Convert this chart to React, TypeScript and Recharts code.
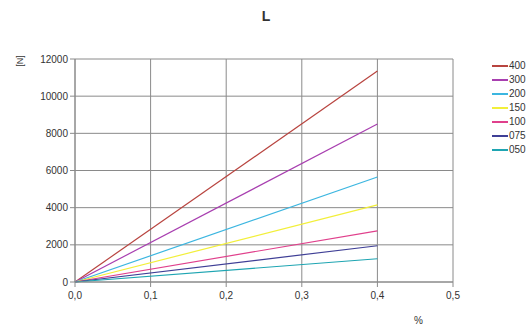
import React from 'react';
import { LineChart, Line, XAxis, YAxis, CartesianGrid } from 'recharts';

// strain [%] vs force [N], one line per size
const strain = [0, 0.4];
const seriesNames = ['400', '300', '200', '150', '100', '075', '050'];
const endForces = [11350, 8500, 5650, 4150, 2750, 1950, 1250];
const colors = ['#b8443f', '#a83fb0', '#3cb6e0', '#f2ef3a', '#e0408c', '#3f3f96', '#1ea5b2'];

const xTicks = [0, 0.1, 0.2, 0.3, 0.4, 0.5];
const yTicks = [0, 2000, 4000, 6000, 8000, 10000, 12000];

const data = strain.map((s, i) => {
    const row: Record<string, number> = { x: s };
    seriesNames.forEach((n, k) => {
        row[n] = i === 0 ? 0 : endForces[k];
    });
    return row;
});

const font = '"Liberation Sans", Arial, sans-serif';
const tickStyle = { fill: '#333', fontSize: 10, fontFamily: font };

export default function App() {
    return (
        <div style={{ position: 'absolute', left: 0, top: 0, width: 532, height: 326, background: '#fff', fontFamily: font }}>
            <div style={{ position: 'absolute', left: 0, width: 532, top: 8, textAlign: 'center', fontWeight: 'bold', fontSize: 14, color: '#333' }}>L</div>
            <div style={{ position: 'absolute', left: 14, top: 56, fontSize: 9, color: '#333', transform: 'rotate(-90deg)', transformOrigin: 'center' }}>[N]</div>
            <div style={{ position: 'absolute', left: 414, top: 315, fontSize: 10, color: '#333' }}>%</div>
            <LineChart width={532} height={326} data={data} margin={{ top: 59, right: 79, bottom: 14, left: 0 }}>
                <CartesianGrid stroke="#8a8a8a" strokeWidth={1} />
                <XAxis
                    dataKey="x"
                    type="number"
                    domain={[0, 0.5]}
                    ticks={xTicks}
                    tickFormatter={(v: number) => v.toFixed(1).replace('.', ',')}
                    tick={tickStyle}
                    stroke="#8a8a8a"
                    tickSize={5}
                    tickMargin={5}
                    height={30}
                />
                <YAxis
                    type="number"
                    domain={[0, 12000]}
                    ticks={yTicks}
                    tick={tickStyle}
                    stroke="#8a8a8a"
                    tickSize={5}
                    width={75}
                />
                {seriesNames.map((n, k) => (
                    <Line key={n} dataKey={n} stroke={colors[k]} strokeWidth={1.2} dot={false} isAnimationActive={false} />
                ))}
            </LineChart>
            <div style={{ position: 'absolute', left: 492, top: 59, fontSize: 10, color: '#333', lineHeight: '14px' }}>
                {seriesNames.map((n, k) => (
                    <div key={n} style={{ display: 'flex', alignItems: 'center', height: 14 }}>
                        <span style={{ display: 'inline-block', width: 16, height: 0, borderTop: `2px solid ${colors[k]}`, marginRight: 1 }} />
                        {n}
                    </div>
                ))}
            </div>
        </div>
    );
}
